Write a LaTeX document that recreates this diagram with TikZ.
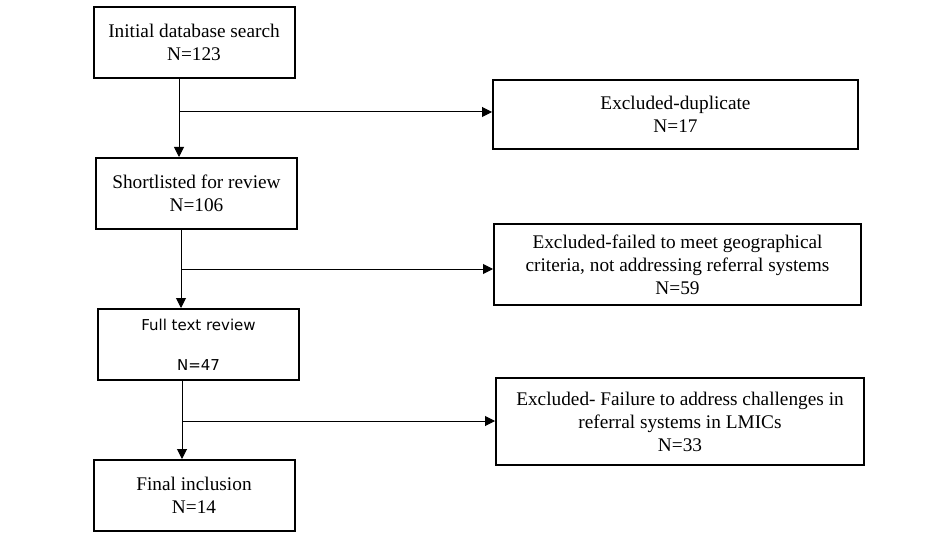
\documentclass[tikz,border=0pt]{standalone}
\usepackage{fontspec}
\setmainfont{Liberation Serif}
\newfontfamily\boxsans{DejaVu Sans}
\usetikzlibrary{arrows.meta,positioning}

\begin{document}
\begin{tikzpicture}[
  x=1pt,y=-1pt,
  node distance=78pt,
  stage/.style={draw,line width=2pt,minimum width=201pt,minimum height=71pt,
    align=center,inner sep=2pt,font=\fontsize{19.3}{23}\selectfont},
  excl/.style={stage,minimum width=365pt},
  arr/.style={-{Triangle[length=10pt,width=10pt]},line width=1pt}
]
\useasboundingbox (0,0) rectangle (936,545);
\node[stage] (init) at (194,42.5) {Initial database search\\N=123};
\node[stage,below=of init,xshift=2.5pt] (short) {Shortlisted for review\\N=106};
\node[stage,below=of short,xshift=2pt,font=\boxsans\fontsize{15}{20}\selectfont]
  (full) {Full text review\\[20pt]N=47};
\node[stage,below=of full,xshift=-4.5pt] (final) {Final inclusion\\N=14};

\node[excl,minimum height=69pt] (dup) at (675.5,114.5)
  {Excluded-duplicate\\N=17};
\node[excl,minimum width=367pt,minimum height=81pt] (geo) at (677.5,264.5)
  {Excluded-failed to meet geographical\\criteria, not addressing referral systems\\N=59};
\node[excl,minimum width=368pt,minimum height=87pt] (lmic) at (680,421.5)
  {Excluded- Failure to address challenges in\\referral systems in LMICs\\N=33};

% main flow
\coordinate (s1) at ([xshift=-15pt]init.south);
\coordinate (s2) at ([xshift=-15.5pt]short.south);
\coordinate (s3) at ([xshift=-16.5pt]full.south);
\draw[arr] (s1) -- (s1 |- short.north);
\draw[arr] (s2) -- (s2 |- full.north);
\draw[arr] (s3) -- (s3 |- final.north);

% exclusions
\coordinate (j1) at (s1 |- 0,112);
\coordinate (j2) at (s2 |- 0,269);
\coordinate (j3) at (s3 |- 0,421);
\draw[arr] (j1) -- (j1 -| dup.west);
\draw[arr] (j2) -- (j2 -| geo.west);
\draw[arr] (j3) -- (j3 -| lmic.west);
\end{tikzpicture}
\end{document}
